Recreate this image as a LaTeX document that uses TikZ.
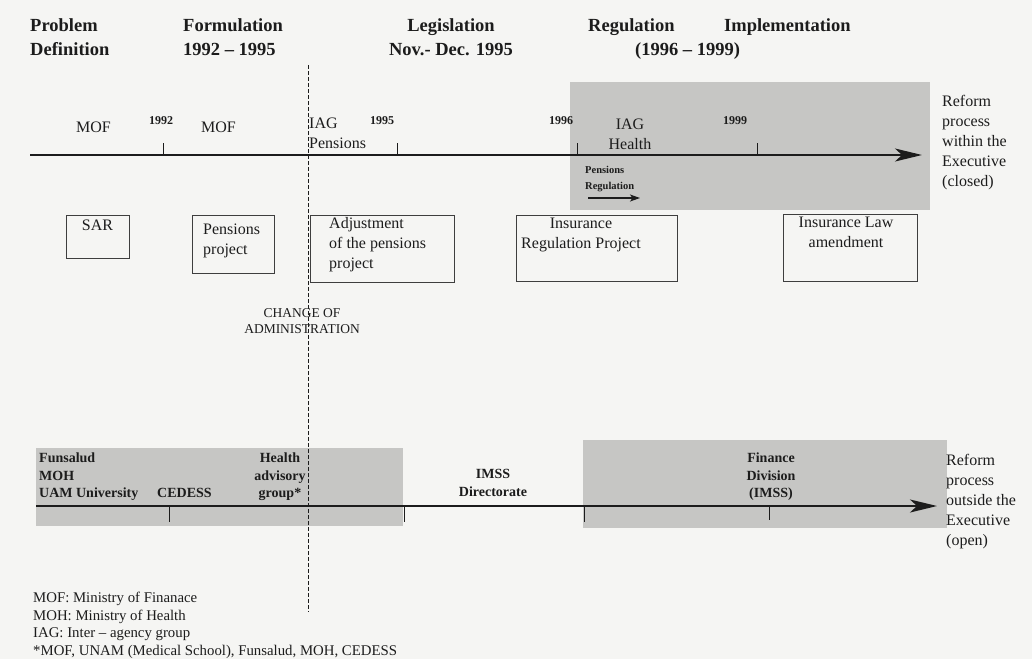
\documentclass[tikz,border=0pt]{standalone}
\usepackage{fontspec}
\setmainfont{Liberation Serif}
\usetikzlibrary{arrows.meta}

\definecolor{paper}{RGB}{245,245,243}
\definecolor{shade}{RGB}{198,198,196}
\definecolor{ink}{RGB}{28,28,28}

\begin{document}
\begin{tikzpicture}[x=1pt,y=-1pt,
  every node/.style={inner sep=0pt,text=ink},
  lbl/.style={anchor=north west},
  headfont/.style={font=\fontsize{18.5}{24}\selectfont\bfseries},
  txt/.style={font=\fontsize{16}{20}\selectfont},
  boldsm/.style={font=\fontsize{14}{17.5}\selectfont\bfseries},
  yearfont/.style={font=\fontsize{12}{14}\selectfont\bfseries},
  tinyfont/.style={font=\fontsize{10.5}{16}\selectfont\bfseries},
  notefont/.style={font=\fontsize{14.8}{17.5}\selectfont},
  chgfont/.style={font=\fontsize{13.5}{16}\selectfont},
  axis/.style={line width=2pt,draw=ink,-{Stealth[length=27pt,width=13pt,inset=7pt]}},
  tick/.style={line width=1pt,draw=ink},
  stagebox/.style={draw=ink!85,line width=1.1pt,anchor=north west},
  zone/.style={fill=shade,draw=none,anchor=north west},
]
\useasboundingbox (0,0) rectangle (1032,659);
\fill[paper] (0,0) rectangle (1032,659);

% ---- phase headings (each first line carries a strut so tops line up) ----
\node[lbl,headfont,align=left] (pd) at (30,14.3) {\strut Problem\\Definition};
\node[lbl,headfont,align=left] (fo) at (183,14.3) {\strut Formulation\\1992 -- 1995};
\node[lbl,headfont,align=center,anchor=north] (le) at (451,14.3) {\strut Legislation\\Nov.- Dec. 1995};
\node[lbl,headfont] (re) at (588,14.3) {\strut Regulation};
\node[lbl,headfont] (im) at (724,14.3) {\strut Implementation};
\node[lbl,headfont] (ry) at (635,38.3) {\strut (1996 -- 1999)};

% ---- shaded zones ----
\node[zone,minimum width=360,minimum height=128] (closedzone) at (570,82) {};
\node[zone,minimum width=367,minimum height=78] (openleft) at (36,448) {};
\node[zone,minimum width=364,minimum height=88] (openright) at (583,440) {};

% ---- closed process timeline ----
\coordinate (c0) at (30,155);
\coordinate (c1) at (922,155);
\draw[axis] (c0) -- (c1);
\foreach \x/\nm in {163/t92,397/t95,577/t96,757/t99}{
  \coordinate (\nm) at (\x,155);
  \draw[tick] (\nm) -- ++(0,-12);
}
\node[yearfont,anchor=base] (y92) at (161,124.5) {1992};
\node[yearfont,anchor=base] (y95) at (382,124) {1995};
\node[yearfont,anchor=base] (y96) at (561,124) {1996};
\node[yearfont,anchor=base] (y99) at (735,124) {1999};

\node[lbl,txt] (mof1) at (76,118.3) {\strut MOF};
\node[lbl,txt] (mof2) at (201,118.3) {\strut MOF};
\node[lbl,txt,align=left] (iagp) at (309,114.3) {\strut IAG\\Pensions};
\node[lbl,txt,align=center,anchor=north] (iagh) at (630,115.3) {\strut IAG\\Health};
\node[lbl,tinyfont,align=left] (preg) at (585,162.5) {\strut Pensions\\Regulation};
\coordinate (pa0) at (588,198);
\coordinate (pa1) at (640,198);
\draw[line width=1.2pt,draw=ink,-{Stealth[length=10pt,width=7pt,inset=2.5pt]}] (pa0) -- (pa1);

\node[lbl,txt,align=left] (closed) at (942,92.3) {\strut Reform\\process\\within the\\Executive\\(closed)};

% ---- project boxes ----
\node[stagebox,minimum width=63,minimum height=43] (sar) at (66,215) {};
\node[lbl,txt,anchor=north] (sart) at (97.5,216.3) {\strut SAR};
\node[stagebox,minimum width=82,minimum height=58] (pp) at (192,215) {};
\node[lbl,txt,align=left] (ppt) at (203,220.3) {\strut Pensions\\project};
\node[stagebox,minimum width=144,minimum height=67] (adj) at (310,215) {};
\node[lbl,txt,align=left] (adjt) at (329,214.3) {\strut Adjustment\\of the pensions\\project};
\node[stagebox,minimum width=161,minimum height=66] (irp) at (516,215) {};
\node[lbl,txt,align=center,anchor=north] (irpt) at (581,214.3) {\strut Insurance\\Regulation Project};
\node[stagebox,minimum width=134,minimum height=67] (ila) at (783,214) {};
\node[lbl,txt,align=center,anchor=north] (ilat) at (846,213.3) {\strut Insurance Law\\amendment};

\node[lbl,chgfont,align=center,anchor=north] (chg) at (302,306.3) {\strut CHANGE OF\\ADMINISTRATION};

% ---- open process timeline ----
\coordinate (o0) at (36,506);
\coordinate (o1) at (937,506);
\draw[axis] (o0) -- (o1);
\foreach \x/\nm/\l in {169/s1/16,404/s2/16,584/s3/16,769/s4/14}{
  \coordinate (\nm) at (\x,506);
  \draw[tick] (\nm) -- ++(0,\l);
}
\node[lbl,boldsm,align=left] (actors) at (39,450.4) {\strut Funsalud\\MOH\\UAM University};
\node[lbl,boldsm] (cedess) at (157,485.4) {\strut CEDESS};
\node[lbl,boldsm,align=center,anchor=north] (hag) at (280,450.4) {\strut Health\\advisory\\group*};
\node[lbl,boldsm,align=center,anchor=north] (imss) at (493,466.4) {\strut IMSS\\Directorate};
\node[lbl,boldsm,align=center,anchor=north] (fin) at (771,450.4) {\strut Finance\\Division\\(IMSS)};
\node[lbl,txt,align=left] (open) at (946,451.3) {\strut Reform\\process\\outside the\\Executive\\(open)};

% ---- change of administration marker ----
\coordinate (d0) at (308,65);
\coordinate (d1) at (308,612);
\draw[draw=ink,line width=1pt,dash pattern=on 3.5pt off 2.5pt] (d0) -- (d1);

% ---- abbreviations ----
\node[lbl,notefont,align=left] (legend) at (33,590.4) {\strut MOF: Ministry of Finanace\\MOH: Ministry of Health\\IAG: Inter -- agency group\\*MOF, UNAM (Medical School), Funsalud, MOH, CEDESS};

\end{tikzpicture}
\end{document}
